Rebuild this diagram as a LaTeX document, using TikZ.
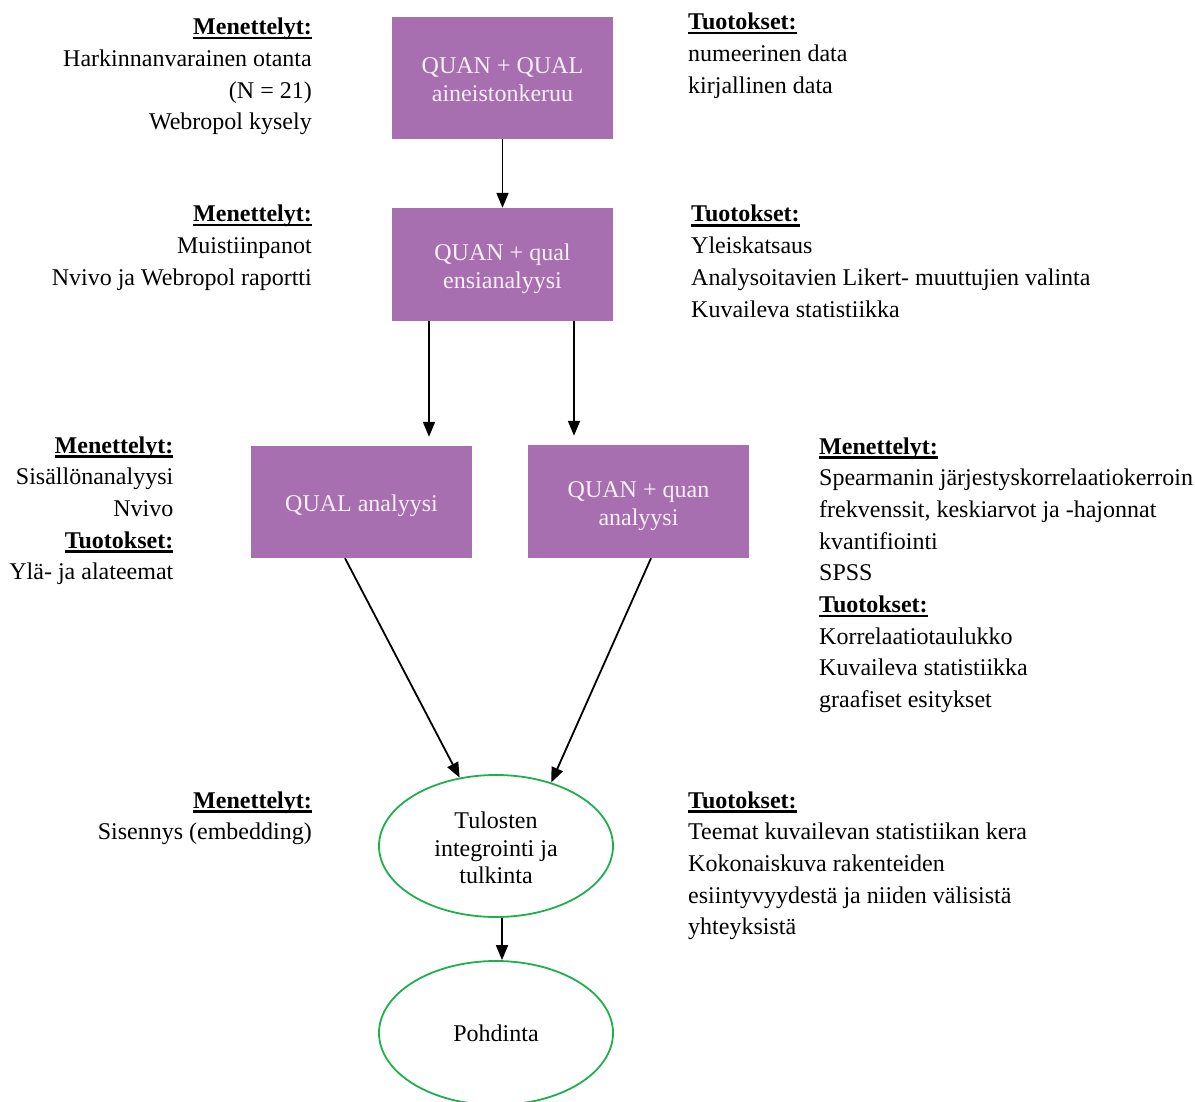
\documentclass[tikz,border=0pt]{standalone}
\usepackage{fontspec}
\setmainfont{Liberation Serif}
\usetikzlibrary{arrows.meta,shapes.geometric}
\definecolor{boxpurple}{RGB}{168,111,176}
\definecolor{ellgreen}{RGB}{30,176,76}
\definecolor{boxtext}{RGB}{250,240,250}
\newcommand\hdr[1]{\setbox0\hbox{\bfseries #1}\rlap{\rule[-4.5pt]{\wd0}{2.2pt}}\box0}
\begin{document}
\begin{tikzpicture}[x=1pt,y=-1pt,
  txt/.style={font=\fontsize{24}{31.7}\selectfont, inner sep=0pt},
  rtxt/.style={txt, align=right, anchor=base east},
  ltxt/.style={txt, align=left, anchor=base west},
  pbox/.style={rectangle, fill=boxpurple, draw=none, minimum width=221pt},
  blbl/.style={text=boxtext, align=center, inner sep=0pt, font=\fontsize{24}{28}\selectfont},
  ell/.style={ellipse, draw=ellgreen, line width=1.8pt,
    minimum width=234pt, minimum height=142pt, inner sep=0pt},
  elbl/.style={align=center, inner sep=0pt, font=\fontsize{24}{27.5}\selectfont},
  arr/.style={line width=1.8pt, -{Triangle[length=15pt,width=12pt]}}]
\useasboundingbox (0,0) rectangle (1195,1102);

\node[pbox, minimum height=122pt] (b1) at (502.5,78) {};
\node[blbl] (b1t) at ([yshift=-2pt]b1.center) {QUAN + QUAL\\aineistonkeruu};
\node[pbox, minimum height=113pt] (b2) at (502.5,264.5) {};
\node[blbl] (b2t) at ([yshift=-4pt]b2.center) {QUAN + qual\\ensianalyysi};
\node[pbox, minimum height=112pt] (b3) at (361.5,502) {};
\node[blbl] (b3t) at ([yshift=-4pt]b3.center) {QUAL analyysi};
\node[pbox, minimum height=113pt] (b4) at (638.5,501.5) {};
\node[blbl] (b4t) at ([yshift=-5pt]b4.center) {QUAN + quan\\analyysi};
\node[ell] (e1) at (496,846) {};
\node[elbl] (e1t) at ([yshift=-2pt]e1.center) {Tulosten\\integrointi ja\\tulkinta};
\node[ell, minimum height=144pt] (e2) at (496,1033) {};
\node[elbl] (e2t) at (e2.center) {Pohdinta};

\draw[arr] (b1.south) -- (b2.north);
\draw[arr] ([xshift=-73.5pt]b2.south) -- ([xshift=67.5pt,yshift=9pt]b3.north);
\draw[arr] ([xshift=71.5pt]b2.south) -- ([xshift=-64.5pt,yshift=9pt]b4.north);
\draw[arr] ([xshift=-16.5pt]b3.south) -- (e1.118);
\draw[arr] ([xshift=12.5pt]b4.south) -- (e1.49);
\draw[arr] ([xshift=6pt]e1.south) -- ([xshift=6pt]e2.north);

\node[rtxt] (m1) at (312,130) {\hdr{Menettelyt:}\\Harkinnanvarainen otanta\\(N = 21)\\Webropol kysely};
\node[ltxt] (t1) at (688,93.4) {\hdr{Tuotokset:}\\numeerinen data\\kirjallinen data};
\node[rtxt] (m2) at (312,285.4) {\hdr{Menettelyt:}\\Muistiinpanot\\Nvivo ja Webropol raportti};
\node[ltxt] (t2) at (691,317.1) {\hdr{Tuotokset:}\\Yleiskatsaus\\Analysoitavien Likert- muuttujien valinta\\Kuvaileva statistiikka};
\node[rtxt] (m3) at (173.5,579.8) {\hdr{Menettelyt:}\\Sisällönanalyysi\\Nvivo\\\hdr{Tuotokset:}\\Ylä- ja alateemat};
\node[ltxt] (m4) at (819,707.6) {\hdr{Menettelyt:}\\Spearmanin järjestyskorrelaatiokerroin\\frekvenssit, keskiarvot ja -hajonnat\\kvantifiointi\\SPSS\\\hdr{Tuotokset:}\\Korrelaatiotaulukko\\Kuvaileva statistiikka\\graafiset esitykset};
\node[rtxt] (m5) at (312,839.7) {\hdr{Menettelyt:}\\Sisennys (embedding)};
\node[ltxt] (t5) at (688,934.8) {\hdr{Tuotokset:}\\Teemat kuvailevan statistiikan kera\\Kokonaiskuva rakenteiden\\esiintyvyydestä ja niiden välisistä\\yhteyksistä};
\end{tikzpicture}
\end{document}
